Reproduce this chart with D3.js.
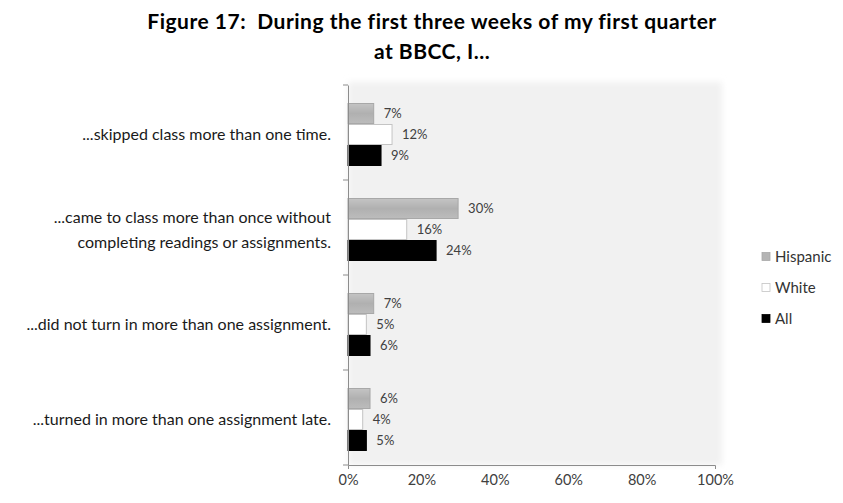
<!DOCTYPE html>
<html>
<head>
<meta charset="utf-8">
<script src="https://cdn.jsdelivr.net/npm/d3@7"></script>
<style>
  html, body { margin: 0; padding: 0; background: #fff; }
  svg { display: block; font-family: Lato, "Open Sans", sans-serif; }
</style>
</head>
<body>
<svg id="chart" width="843" height="503"></svg>
<script>
// Survey items (top to bottom)
const categories = [
  ["...skipped class more than one time."],
  ["...came to class more than once without", "completing readings or assignments."],
  ["...did not turn in more than one assignment."],
  ["...turned in more than one assignment late."]
];
const seriesNames = ["Hispanic", "White", "All"];
const hispanic = [7, 30, 7, 6];
const white = [12, 16, 5, 4];
const all = [9, 24, 6, 5];
const xTicks = [0, 20, 40, 60, 80, 100];

const seriesValues = [hispanic, white, all];
const fills = ["#b4b4b4", "#ffffff", "#000000"];
const strokes = ["#a8a8a8", "#c4c4c4", "#000000"];

const svg = d3.select("#chart");
const plot = { left: 348, right: 715, top: 85, bottom: 465 };

// soft grey plot area
const defs = svg.append("defs");
defs.append("filter").attr("id", "soft").attr("x", "-5%").attr("y", "-5%").attr("width", "110%").attr("height", "110%")
  .append("feGaussianBlur").attr("stdDeviation", 3);
const hisGrad = defs.append("linearGradient").attr("id", "hisGrad").attr("x1", 0).attr("x2", 0).attr("y1", 0).attr("y2", 1);
hisGrad.append("stop").attr("offset", "0%").attr("stop-color", "#c4c4c4");
hisGrad.append("stop").attr("offset", "50%").attr("stop-color", "#b0b0b0");
hisGrad.append("stop").attr("offset", "100%").attr("stop-color", "#bcbcbc");

svg.append("rect")
  .attr("x", plot.left).attr("y", plot.top - 3)
  .attr("width", 374).attr("height", plot.bottom - plot.top + 3)
  .attr("fill", "#f1f1f1")
  .attr("filter", "url(#soft)");

const x = d3.scaleLinear().domain([0, 100]).range([plot.left, plot.right]);
const y = d3.scaleBand().domain(d3.range(categories.length)).range([plot.top, plot.bottom]);
const ySeries = d3.scaleBand().domain(d3.range(seriesNames.length)).range([18, 81]);

// Title
const title = svg.append("text")
  .attr("text-anchor", "middle")
  .attr("font-weight", "bold")
  .attr("font-size", 21)
  .attr("letter-spacing", 0.5)
  .attr("fill", "#000")
  .style("white-space", "pre");
title.append("tspan").attr("x", 432).attr("y", 29).text("Figure 17:  During the first three weeks of my first quarter");
title.append("tspan").attr("x", 432).attr("y", 59).text("at BBCC, I...");

// Bars and value labels
const groups = svg.append("g").selectAll("g")
  .data(categories)
  .join("g")
  .attr("transform", (d, i) => `translate(0,${y(i)})`);

seriesNames.forEach((name, s) => {
  groups.append("rect")
    .attr("x", x(0))
    .attr("y", ySeries(s) + 0.5)
    .attr("width", (d, i) => x(seriesValues[s][i]) - x(0))
    .attr("height", ySeries.bandwidth() - 1)
    .attr("fill", s === 0 ? "url(#hisGrad)" : fills[s])
    .attr("stroke", strokes[s])
    .attr("stroke-width", 1);
  groups.append("text")
    .attr("x", (d, i) => x(seriesValues[s][i]) + 10)
    .attr("y", ySeries(s) + ySeries.bandwidth() / 2)
    .attr("dy", "0.35em")
    .attr("font-size", 13)
    .attr("fill", "#404040")
    .text((d, i) => seriesValues[s][i] + "%");
});

// Category axis
const yAxis = svg.append("g")
  .attr("transform", `translate(${plot.left},0)`)
  .call(d3.axisLeft(y).tickSize(0).tickFormat(""));
yAxis.select(".domain").attr("stroke", "#8c8c8c");
yAxis.selectAll(".tick").remove();
// tick marks between categories
yAxis.selectAll("line.sep")
  .data(d3.range(categories.length + 1))
  .join("line")
  .attr("class", "sep")
  .attr("x1", -5).attr("x2", 0)
  .attr("y1", i => i < categories.length ? y(i) : plot.bottom)
  .attr("y2", i => i < categories.length ? y(i) : plot.bottom)
  .attr("stroke", "#8c8c8c");

// Category labels
const catLabels = svg.append("g").selectAll("text")
  .data(categories)
  .join("text")
  .attr("text-anchor", "end")
  .attr("font-size", 16)
  .attr("fill", "#1a1a1a");
catLabels.each(function (lines, i) {
  const t = d3.select(this);
  const cy = y(i) + y.bandwidth() / 2 + 2;
  lines.forEach((ln, k) => {
    t.append("tspan")
      .attr("x", 331)
      .attr("y", cy + (k - (lines.length - 1) / 2) * 25)
      .attr("dy", "0.35em")
      .text(ln);
  });
});

// Value axis
const xAxis = svg.append("g")
  .attr("transform", `translate(0,${plot.bottom})`)
  .call(d3.axisBottom(x).tickValues(xTicks).tickSizeInner(0).tickSizeOuter(4).tickPadding(10).tickFormat(d => d + "%"));
xAxis.select(".domain").attr("stroke", "#8c8c8c");
xAxis.selectAll("text").attr("font-size", 14.5).attr("fill", "#404040").attr("font-family", "Lato, 'Open Sans', sans-serif");

// Legend
const legend = svg.append("g").selectAll("g")
  .data(seriesNames)
  .join("g")
  .attr("transform", (d, i) => `translate(762,${257 + i * 31})`);
legend.append("rect")
  .attr("x", 0).attr("y", -4.5).attr("width", 8).attr("height", 8)
  .attr("fill", (d, i) => i === 0 ? "#b4b4b4" : fills[i])
  .attr("stroke", (d, i) => strokes[i])
  .attr("stroke-width", 0.8);
legend.append("text")
  .attr("x", 13).attr("y", 0).attr("dy", "0.35em")
  .attr("font-size", 15)
  .attr("fill", "#333")
  .text(d => d);
</script>
</body>
</html>
